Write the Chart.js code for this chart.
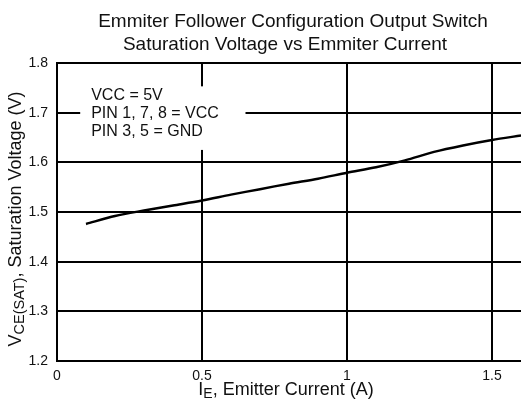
<!DOCTYPE html>
<html><head><meta charset="utf-8">
<script src="https://cdn.jsdelivr.net/npm/chart.js@4/dist/chart.umd.min.js"></script>
<style>html,body{margin:0;padding:0;background:#fff;}#wrap{width:521px;height:405px;}</style>
</head><body><div id="wrap"><canvas id="c" width="521" height="405"></canvas></div>
<script>
const currentA = [0.1,0.2,0.3,0.4,0.5,0.6,0.7,0.8,0.9,1.0,1.1,1.2,1.3,1.4,1.5,1.6];
const vceSat = [1.476,1.492,1.503,1.513,1.523,1.535,1.546,1.557,1.567,1.579,1.590,1.604,1.621,1.634,1.645,1.654];
const xTicks = [0,0.5,1,1.5];
const yTicks = [1.2,1.3,1.4,1.5,1.6,1.7,1.8];
const titleLines = ["Emmiter Follower Configuration Output Switch","Saturation Voltage vs Emmiter Current"];
const noteLines = ["VCC = 5V","PIN 1, 7, 8 = VCC","PIN 3, 5 = GND"];
const FONT = "'Liberation Sans', Arial, sans-serif";
const INK = '#111';

const decor = {
  id:'decor',
  beforeDatasetsDraw(chart){
    const {ctx} = chart;
    const xs = chart.scales.x, ys = chart.scales.y;
    const x0 = xs.getPixelForValue(0.08), x1 = xs.getPixelForValue(0.65);
    const y0 = ys.getPixelForValue(1.753), y1 = ys.getPixelForValue(1.625);
    ctx.save();
    ctx.fillStyle='#fff';
    ctx.fillRect(x0, y0, x1-x0, y1-y0);
    ctx.fillStyle=INK;
    ctx.font = '16px '+FONT;
    ctx.textBaseline='alphabetic';
    ctx.textAlign='left';
    noteLines.forEach((t,i)=>ctx.fillText(t, x0+11, y0+14+i*18));
    ctx.restore();
  },
  afterDraw(chart){
    const {ctx} = chart;
    ctx.save();
    ctx.fillStyle=INK;
    ctx.textAlign='center';
    ctx.textBaseline='alphabetic';
    ctx.font='19px '+FONT;
    ctx.fillText(titleLines[0], 293, 27);
    ctx.fillText(titleLines[1], 285, 50);
    function comp(parts, cx, cy){
      let w=0;
      parts.forEach(p=>{ctx.font=p.size+'px '+FONT; p.w=ctx.measureText(p.t).width; w+=p.w;});
      let x=cx-w/2;
      ctx.textAlign='left';
      parts.forEach(p=>{ctx.font=p.size+'px '+FONT; ctx.fillText(p.t,x,cy+(p.dy||0)); x+=p.w;});
    }
    comp([{t:'I',size:18},{t:'E',size:14,dy:3},{t:', Emitter Current (A)',size:18}], 286, 395);
    ctx.save();
    ctx.translate(21, 219);
    ctx.rotate(-Math.PI/2);
    comp([{t:'V',size:18},{t:'CE(SAT)',size:14.5,dy:3},{t:', Saturation Voltage (V)',size:18}], 0, 0);
    ctx.restore();
    ctx.restore();
  }
};

new Chart(document.getElementById('c'), {
  type:'line',
  data:{datasets:[{
    data: currentA.map((x,i)=>({x, y:vceSat[i]})),
    borderColor:'#000', borderWidth:2.5, pointRadius:0, tension:0.3, fill:false
  }]},
  options:{
    responsive:false, animation:false,
    layout:{padding:{top:63,left:0,right:0,bottom:0}},
    plugins:{legend:{display:false}, title:{display:false}, tooltip:{enabled:false}},
    scales:{
      x:{type:'linear', min:0, max:1.6,
        afterBuildTicks(s){ s.ticks = xTicks.map(v=>({value:v})); },
        afterFit(s){ s.height = 44; },
        grid:{color:'#000', lineWidth:2, drawTicks:false},
        border:{color:'#000', width:2},
        ticks:{color:INK, font:{size:14, family:FONT}, padding:7, maxRotation:0,
          callback:(v)=>String(v)}
      },
      y:{type:'linear', min:1.2, max:1.8,
        afterBuildTicks(s){ s.ticks = yTicks.map(v=>({value:v})); },
        afterFit(s){ s.width = 57; },
        grid:{color:'#000', lineWidth:2, drawTicks:false},
        border:{color:'#000', width:2},
        ticks:{color:INK, font:{size:14, family:FONT}, padding:9,
          callback:(v)=>v.toFixed(1)}
      }
    }
  },
  plugins:[decor]
});
</script></body></html>
